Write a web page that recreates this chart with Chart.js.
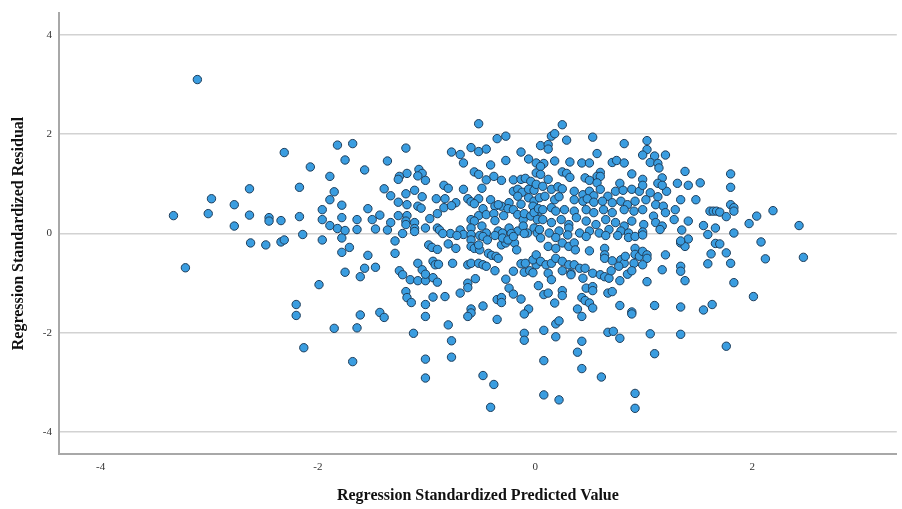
<!DOCTYPE html>
<html>
<head>
<meta charset="utf-8">
<script src="https://cdn.jsdelivr.net/npm/chart.js@4"></script>
<style>
html,body{margin:0;padding:0;background:#ffffff;overflow:hidden;}
#wrap{width:902px;height:509px;position:relative;overflow:hidden;}
canvas{display:block;}
</style>
</head>
<body>
<div id="wrap"><canvas id="c" width="902" height="509"></canvas></div>
<script>
// Regression Standardized Predicted Value (x) and Regression Standardized Residual (y)
const predicted = [
-3.11,-2.31,-1.82,-1.68,-1.75,-2.07,-1.57,-1.89,-2.63,-2.17,-1.85,-2.98,-2.77,-1.89,-1.78,-1.54,-3.33,-3.01,-2.63,-2.45,-2.45,-2.34,-2.17,-1.96,-1.96,-1.78,-1.64,-1.50,-2.77,-1.89,-1.82,-1.75,-1.64,-1.47,-2.14,
-2.62,-2.48,-2.34,-2.31,-1.96,-1.78,-1.78,-1.71,-1.54,-3.22,-1.75,-1.57,-1.61,-1.47,-1.99,-2.20,-2.20,-1.61,-1.85,-1.64,-2.13,-1.68,
-0.52,-0.35,-0.27,-1.19,-0.77,-0.69,-0.59,-0.52,-0.45,-0.13,-0.06,-0.27,-1.36,-0.66,-0.41,-1.07,-1.04,-1.18,-1.25,-1.26,-1.08,-1.01,-0.56,-0.52,-0.45,-0.38,-0.31,0.01,-0.20,-0.13,-0.09,-0.04,
-1.39,-0.84,-0.80,-1.11,-1.19,-1.33,-1.04,-0.66,-0.49,-0.20,-0.16,-0.12,-0.06,-0.01,-0.91,-0.83,-0.73,-0.62,-0.59,-0.52,-0.56,-0.41,-0.31,-0.37,-0.34,-0.24,-0.25,-0.16,-0.13,-0.06,-0.01,-0.02,0.04,
-1.26,-1.18,-1.08,-1.05,-0.84,-0.77,-1.43,-1.26,-1.18,-1.19,-0.90,-0.59,-0.52,-0.56,-0.48,-0.45,-0.38,-0.37,-0.29,-0.20,-0.16,-0.11,-0.10,-0.04,-0.01,0.02,0.03,
-1.33,-1.36,-1.19,-1.11,-1.11,-1.01,-0.97,-0.90,-0.88,-0.78,-0.69,-0.66,-0.59,-0.59,-0.49,-0.45,-0.34,-0.30,-0.24,-0.16,-0.11,-0.07,-0.01,0.02,
-1.22,-1.11,-0.85,-0.72,-0.51,-0.37,-0.22,-0.10,
-1.29,-1.29,-0.98,-0.95,-0.90,-0.80,-0.73,-0.59,-0.59,-0.56,-0.51,-0.52,-0.48,-0.44,-0.31,-0.27,-0.19,-0.17,-0.30,-0.25,-0.20,-0.43,-0.40,-0.36,-0.34,
-1.08,-0.94,-0.92,-0.89,-0.76,-0.62,-0.59,-0.52,-0.48,-0.45,-0.37,-0.13,-0.09,0.01,-0.02,-0.10,-0.05,-0.02,-0.20,-1.25,-1.22,-1.15,-1.08,-1.01,-1.04,-1.01,-0.94,-0.90,
-0.62,-0.62,-0.55,-0.27,-0.24,-0.20,0.03,-1.19,-1.18,-1.14,-0.94,-0.83,-0.69,-1.01,-1.01,-1.43,-1.39,-0.59,-0.59,-0.62,-0.48,-0.35,-0.31,-0.31,-0.35,-0.13,-0.06,-0.10,
-0.80,-1.12,-0.77,-0.77,-1.01,-1.01,-0.10,-0.10,-0.48,-0.38,-0.41,
0.25,0.15,0.18,0.29,0.53,0.05,0.12,0.12,0.82,1.03,1.03,0.99,0.57,1.10,1.20,1.06,1.13,1.14,0.01,0.08,0.05,0.18,0.32,0.43,0.50,0.71,0.75,0.82,1.38,
0.25,0.29,0.32,0.60,0.57,0.60,0.89,0.05,0.12,0.46,0.50,0.99,1.17,1.13,0.57,0.60,0.78,1.31,1.41,
0.01,0.07,0.15,0.21,0.25,0.36,0.44,0.50,0.54,0.67,0.74,0.81,0.89,0.96,0.99,1.06,1.13,1.21,1.17,1.34,
0.04,0.09,0.18,0.22,0.36,0.44,0.48,0.54,0.62,0.71,0.79,0.85,0.92,1.02,1.11,1.18,
0.07,0.15,0.19,0.27,0.36,0.47,0.54,0.63,0.71,0.82,0.91,0.99,1.09,1.20,1.29,
0.07,0.15,0.24,0.31,0.38,0.47,0.56,0.65,0.74,0.82,0.89,1.00,1.11,1.17,1.28,1.41,
0.04,0.13,0.22,0.31,0.41,0.50,0.59,0.68,0.79,0.86,0.99,1.15,1.35,
0.05,0.19,0.30,0.47,0.65,0.76,0.86,0.92,0.99,
0.12,0.19,0.25,0.31,0.36,0.37,0.50,0.64,0.64,0.64,0.71,0.79,0.82,0.77,0.83,0.92,0.92,0.96,0.99,1.03,1.03,0.99,0.91,0.85,0.89,1.20,
1.34,1.38,1.41,1.34,1.17,1.34,1.34,1.38,1.03,0.78,
0.01,0.05,0.10,0.15,0.19,0.25,0.31,0.36,0.41,0.46,0.12,0.15,0.25,0.33,0.33,0.53,0.60,0.64,0.68,0.70,0.44,
0.47,0.53,0.53,0.25,0.25,0.08,0.12,0.67,0.71,0.43,0.46,0.50,0.53,0.18,0.39,0.43,0.78,0.89,0.89,1.10,1.34,
0.19,0.22,0.08,0.19,0.67,0.72,0.78,1.06,1.34,0.43,0.39,1.10,0.08,0.43,0.61,0.08,0.22,0.92,0.92,
1.80,1.52,1.80,1.48,1.80,1.83,1.83,1.61,1.64,1.67,1.70,1.76,2.19,2.04,1.97,2.43,1.55,1.66,1.59,1.83,1.66,1.70,2.08,1.62,1.76,1.59,1.80,2.12,2.47,1.83,2.01,1.63,1.55,1.76
];
const residual = [
3.10,1.63,1.78,1.81,1.48,1.34,1.28,1.15,0.90,0.93,0.84,0.70,0.58,0.68,0.57,0.50,0.36,0.40,0.37,0.32,0.25,0.26,0.34,0.48,0.28,0.32,0.28,0.28,0.15,0.16,0.10,0.06,0.08,0.09,-0.02,
-0.19,-0.23,-0.17,-0.13,-0.13,-0.09,-0.38,-0.28,-0.44,-0.69,-0.78,-0.70,-0.87,-0.68,-1.03,-1.43,-1.65,-1.64,-1.91,-1.90,-2.30,-2.58,
2.21,1.91,1.96,1.72,1.64,1.59,1.73,1.65,1.70,1.64,1.50,1.47,1.46,1.42,1.38,1.29,1.21,1.21,1.15,1.09,1.16,1.07,1.24,1.19,1.08,1.15,1.07,1.22,1.08,1.09,1.11,1.05,
0.90,0.97,0.91,0.87,0.80,0.76,0.74,0.89,0.91,0.85,0.89,0.83,0.89,0.87,0.70,0.70,0.62,0.70,0.64,0.70,0.60,0.68,0.55,0.55,0.58,0.62,0.50,0.75,0.59,0.72,0.65,0.55,0.45,
0.63,0.58,0.55,0.51,0.52,0.56,0.37,0.36,0.36,0.25,0.40,0.28,0.36,0.25,0.50,0.38,0.40,0.26,0.36,0.48,0.38,0.28,0.40,0.35,0.42,0.28,0.50,
0.22,0.07,0.18,0.22,0.10,0.11,0.30,0.11,0.07,0.00,0.07,-0.02,0.11,-0.02,0.15,0.01,0.05,0.01,0.11,0.05,0.15,0.01,0.11,0.01,
0.00,0.04,0.00,-0.04,-0.04,-0.04,0.00,0.00,
-0.15,-0.40,-0.23,-0.28,-0.32,-0.21,-0.30,-0.13,-0.26,-0.30,-0.33,-0.23,-0.06,-0.13,-0.23,-0.19,-0.19,-0.33,-0.09,-0.13,-0.06,-0.40,-0.44,-0.46,-0.50,
-0.60,-0.56,-0.63,-0.62,-0.60,-0.63,-0.60,-0.60,-0.63,-0.66,-0.75,-0.61,-0.60,-0.63,-0.53,-0.78,-0.75,-0.79,-0.76,-0.75,-0.83,-0.93,-0.95,-0.95,-0.73,-0.82,-0.89,-0.98,
-1.00,-1.09,-0.91,-0.92,-1.10,-1.22,-1.05,-1.17,-1.29,-1.39,-1.28,-1.27,-1.20,-1.43,-1.67,-1.59,-1.69,-1.52,-1.60,-1.67,-1.46,-1.33,-1.29,-1.39,-1.73,-1.32,-1.52,-1.62,
-1.84,-2.01,-2.16,-2.49,-2.53,-2.91,-2.01,-2.15,-2.86,-3.04,-3.50,
2.19,1.96,2.01,1.88,1.94,1.77,1.79,1.70,1.81,1.87,1.69,1.58,1.61,1.56,1.58,1.43,1.41,1.32,1.42,1.41,1.35,1.46,1.44,1.42,1.42,1.43,1.47,1.42,1.25,
1.24,1.21,1.13,1.23,1.15,1.15,1.20,1.19,1.09,1.12,1.07,1.09,1.12,1.01,1.02,0.89,1.01,1.01,0.97,
0.99,0.95,0.89,0.94,0.90,0.85,0.78,0.85,0.76,0.75,0.85,0.87,0.89,0.85,0.97,0.82,0.74,0.85,0.97,0.68,
0.72,0.75,0.68,0.74,0.68,0.65,0.70,0.63,0.65,0.62,0.65,0.58,0.65,0.68,0.58,0.55,
0.48,0.52,0.45,0.48,0.45,0.48,0.42,0.48,0.42,0.48,0.45,0.48,0.35,0.42,0.48,
0.28,0.22,0.28,0.18,0.32,0.25,0.18,0.28,0.22,0.15,0.25,0.18,0.22,0.15,0.28,0.25,
0.08,0.01,0.05,0.11,0.01,0.05,0.01,0.08,0.05,0.01,0.03,0.08,0.07,
-0.09,-0.08,-0.03,-0.06,-0.04,-0.04,-0.08,-0.06,-0.03,
-0.26,-0.30,-0.19,-0.26,-0.19,-0.33,-0.35,-0.30,-0.43,-0.50,-0.55,-0.53,-0.60,-0.66,-0.46,-0.30,-0.42,-0.46,-0.36,-0.43,-0.50,-0.63,-0.60,-0.82,-0.75,-0.43,
-0.19,-0.26,-0.11,-0.15,-0.73,-0.66,-0.76,-0.95,-0.97,-0.95,
-0.43,-0.56,-0.63,-0.60,-0.50,-0.56,-0.63,-0.63,-0.70,-0.70,-0.80,-0.93,-0.75,-0.80,-0.83,-0.80,-0.83,-0.87,-0.90,-0.75,-0.90,
-1.10,-1.07,-1.15,-1.15,-1.25,-1.23,-1.20,-1.20,-1.17,-1.29,-1.35,-1.40,-1.50,-1.40,-1.52,-1.67,-1.45,-1.58,-1.62,-1.45,-1.48,
-1.82,-1.76,-1.95,-2.08,-1.99,-1.97,-2.11,-2.02,-2.03,-2.17,-2.39,-2.42,-2.56,-2.72,-2.89,-3.25,-3.35,-3.22,-3.52,
1.20,1.02,0.93,0.68,0.58,0.52,0.45,0.45,0.45,0.45,0.43,0.34,0.46,0.35,0.20,0.16,0.16,0.11,-0.02,0.01,-0.20,-0.21,-0.17,-0.41,-0.39,-0.61,-0.60,-0.51,-0.48,-0.99,-1.27,-1.43,-1.54,-2.27
];
const xTicks = [-4, -2, 0, 2];
const yTicks = [-4, -2, 0, 2, 4];
const xTitle = 'Regression Standardized Predicted Value';
const yTitle = 'Regression Standardized Residual';

const points = predicted.map((x, i) => ({ x: x, y: residual[i] }));
const serif = '"Liberation Serif", "Times New Roman", serif';

new Chart(document.getElementById('c'), {
  type: 'scatter',
  data: {
    datasets: [{
      data: points,
      pointRadius: 4.2,
      pointHoverRadius: 4.2,
      pointBorderWidth: 1,
      backgroundColor: '#3a9de0',
      borderColor: '#1e3d5a'
    }]
  },
  options: {
    responsive: false,
    devicePixelRatio: 1,
    animation: false,
    events: [],
    layout: { padding: { top: 13, right: 0, left: 0, bottom: 0 } },
    plugins: { legend: { display: false }, tooltip: { enabled: false }, title: { display: false } },
    scales: {
      x: {
        type: 'linear',
        min: -4.384,
        max: 3.33,
        afterBuildTicks: s => { s.ticks = xTicks.map(v => ({ value: v })); },
        afterFit: s => { s.height = 55; s.paddingLeft = 0; s.paddingRight = 0; },
        grid: { display: false, drawTicks: false },
        border: { display: true, color: '#a8a8a8', width: 2 },
        ticks: { font: { family: serif, size: 11 }, color: '#333333', padding: 7, maxRotation: 0 },
        title: { display: true, text: xTitle, color: '#111111',
                 font: { family: serif, size: 16, weight: 'bold' }, padding: { top: 0, bottom: 4 } }
      },
      y: {
        type: 'linear',
        min: -4.44,
        max: 4.44,
        afterBuildTicks: s => { s.ticks = yTicks.map(v => ({ value: v })); },
        afterFit: s => { s.width = 59; s.paddingTop = 0; s.paddingBottom = 0; },
        grid: { color: '#d2d2d2', lineWidth: 1.5, drawTicks: false },
        border: { display: true, color: '#a8a8a8', width: 2 },
        ticks: { font: { family: serif, size: 11 }, color: '#333333', padding: 7 },
        title: { display: true, text: yTitle, color: '#111111',
                 font: { family: serif, size: 16, weight: 'bold' }, padding: { top: 9, bottom: 0 } }
      }
    }
  }
});
</script>
</body>
</html>
